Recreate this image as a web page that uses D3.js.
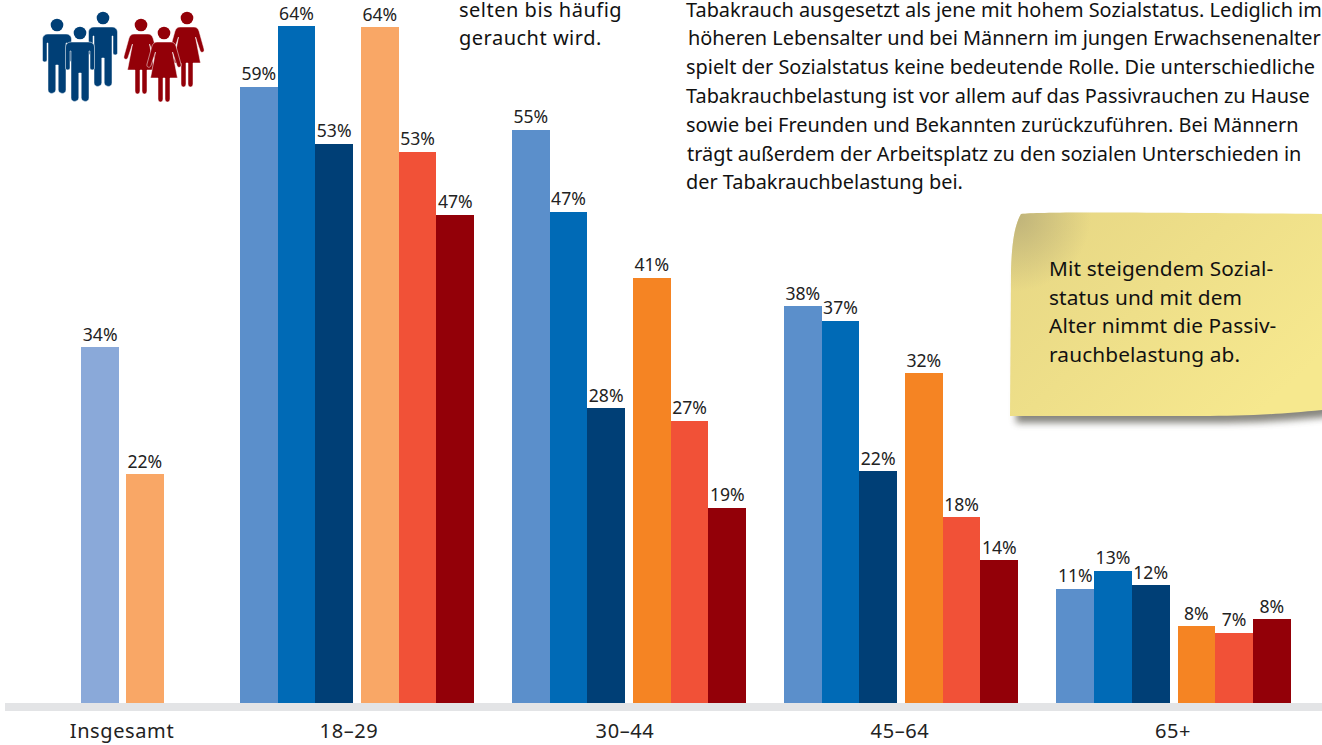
<!DOCTYPE html>
<html>
<head>
<meta charset="utf-8">
<script src="https://cdn.jsdelivr.net/npm/d3@7"></script>
<style>
  html, body { margin: 0; padding: 0; background: white; overflow: hidden; }
  svg { display: block; font-family: "Noto Sans", sans-serif; }
</style>
</head>
<body>
<svg id="main-svg" width="1322" height="745"></svg>
<script>
// age groups and overall values
var ageGroups = ["18–29", "30–44", "45–64", "65+"];
var overallLabel = "Insgesamt";
var overallMen = 33.9;
var overallWomen = 21.8;

// bar heights in percent
var menLow = [58.7, 54.6, 37.8, 10.9];
var menMid = [64.5, 46.8, 36.4, 12.6];
var menHigh = [53.3, 28.1, 22.1, 11.2];
var womenLow = [64.4, 40.5, 31.4, 7.3];
var womenMid = [52.5, 26.9, 17.7, 6.7];
var womenHigh = [46.5, 18.6, 13.6, 8.0];

// printed labels
var menLowLabels = ["59%", "55%", "38%", "11%"];
var menMidLabels = ["64%", "47%", "37%", "13%"];
var menHighLabels = ["53%", "28%", "22%", "12%"];
var womenLowLabels = ["64%", "41%", "32%", "8%"];
var womenMidLabels = ["53%", "27%", "18%", "7%"];
var womenHighLabels = ["47%", "19%", "14%", "8%"];

var textColumn = [
    "Tabakrauch ausgesetzt als jene mit hohem Sozialstatus. Lediglich im",
    "höheren Lebensalter und bei Männern im jungen Erwachsenenalter",
    "spielt der Sozialstatus keine bedeutende Rolle. Die unterschiedliche",
    "Tabakrauchbelastung ist vor allem auf das Passivrauchen zu Hause",
    "sowie bei Freunden und Bekannten zurückzuführen. Bei Männern",
    "trägt außerdem der Arbeitsplatz zu den sozialen Unterschieden in",
    "der Tabakrauchbelastung bei."
];
var textIndent = [0, 2, 0, 0, 0, 1, 0];
var textTeaser = ["selten bis häufig", "geraucht wird."];
var noteLines = ["Mit steigendem Sozial-", "status und mit dem", "Alter nimmt die Passiv-", "rauchbelastung ab."];

var svg = d3.select("#main-svg");

// scales
const baseY = 703;
var y = d3.scaleLinear().domain([0, 64.5]).range([baseY, 26]);
var groupCenter = d3.scaleOrdinal()
    .domain([overallLabel].concat(ageGroups))
    .range([122.5, 357, 629, 901, 1173.5]);
var labelCenter = d3.scaleOrdinal()
    .domain([overallLabel].concat(ageGroups))
    .range([122, 349, 625, 900, 1173]);

const barW = 37.7;
const sexGap = 8;

// series table
var series = [
    { values: menLow, labels: menLowLabels, offset: -sexGap / 2 - 3 * barW, color: "#5b8fcb" },
    { values: menMid, labels: menMidLabels, offset: -sexGap / 2 - 2 * barW, color: "#006ab6" },
    { values: menHigh, labels: menHighLabels, offset: -sexGap / 2 - barW, color: "#003f76" },
    { values: womenLow, labels: womenLowLabels, offset: sexGap / 2, color: "#f58423", first: "#f9a766" },
    { values: womenMid, labels: womenMidLabels, offset: sexGap / 2 + barW, color: "#f15137" },
    { values: womenHigh, labels: womenHighLabels, offset: sexGap / 2 + 2 * barW, color: "#930008" }
];

var bars = [
    { x: groupCenter(overallLabel) - 3.5 - barW, value: overallMen, label: "34%", color: "#8aa9d9" },
    { x: groupCenter(overallLabel) + 3.5, value: overallWomen, label: "22%", color: "#f9a766" }
];
series.forEach(function(s) {
    ageGroups.forEach(function(g, i) {
        bars.push({
            x: groupCenter(g) + s.offset,
            value: s.values[i],
            label: s.labels[i],
            color: (i === 0 && s.first) ? s.first : s.color
        });
    });
});

// defs for the note
var defs = svg.append("defs");
var grad = defs.append("linearGradient").attr("id", "noteFill")
    .attr("x1", "0%").attr("y1", "0%").attr("x2", "100%").attr("y2", "70%");
grad.append("stop").attr("offset", "0%").attr("stop-color", "#e6d684");
grad.append("stop").attr("offset", "100%").attr("stop-color", "#f6e88e");
var corner = defs.append("radialGradient").attr("id", "noteCorner")
    .attr("gradientUnits", "userSpaceOnUse")
    .attr("cx", 1016).attr("cy", 216).attr("r", 75);
corner.append("stop").attr("offset", "0%").attr("stop-color", "#b8ad78").attr("stop-opacity", 0.85);
corner.append("stop").attr("offset", "100%").attr("stop-color", "#b8ad78").attr("stop-opacity", 0);
var blur = defs.append("filter").attr("id", "noteShadow")
    .attr("x", "-10%").attr("y", "-10%").attr("width", "120%").attr("height", "125%");
blur.append("feGaussianBlur").attr("stdDeviation", 3.5);

// note
const notePath = "M1021,214 C1040,212 1100,212 1322,214 L1322,410 C1270,415 1240,416 1200,416 L1010,416 L1011,270 C1012,240 1015,225 1021,214 Z";
svg.append("path").attr("d", notePath)
    .attr("transform", "translate(6,7)")
    .attr("fill", "#55524a")
    .attr("opacity", 0.7)
    .attr("filter", "url(#noteShadow)");
svg.append("path").attr("d", notePath).attr("fill", "url(#noteFill)");
svg.append("path").attr("d", notePath).attr("fill", "url(#noteCorner)");
svg.selectAll(".note-line").data(noteLines).join("text")
    .attr("class", "note-line")
    .attr("x", 1049)
    .attr("y", (d, i) => 276 + i * 28.7)
    .attr("fill", "#111")
    .style("font-size", "20.8px")
    .style("letter-spacing", "0.15px")
    .text(d => d);

// baseline strip
svg.append("rect")
    .attr("x", 5).attr("y", baseY)
    .attr("width", 1317).attr("height", 8)
    .attr("fill", "#e3e4e6");

// bars
svg.selectAll(".bar").data(bars).join("rect")
    .attr("class", "bar")
    .attr("x", d => d.x)
    .attr("y", d => y(d.value))
    .attr("width", barW)
    .attr("height", d => baseY - y(d.value))
    .attr("fill", d => d.color)
    .attr("shape-rendering", "crispEdges");

svg.selectAll(".bar-label").data(bars).join("text")
    .attr("class", "bar-label")
    .attr("x", d => d.x + barW / 2)
    .attr("y", d => y(d.value) - 6.5)
    .attr("text-anchor", "middle")
    .attr("fill", "#222")
    .style("font-size", "17.6px")
    .text(d => d.label);

// category labels
svg.selectAll(".cat-label").data([overallLabel].concat(ageGroups)).join("text")
    .attr("class", "cat-label")
    .attr("x", d => labelCenter(d))
    .attr("y", 738)
    .attr("text-anchor", "middle")
    .attr("fill", "#222")
    .style("font-size", "20px")
    .style("letter-spacing", "0.6px")
    .text(d => d);

// running text
svg.selectAll(".body-line").data(textColumn).join("text")
    .attr("class", "body-line")
    .attr("x", (d, i) => 686 + textIndent[i])
    .attr("y", (d, i) => 16.5 + i * 28.8)
    .attr("fill", "#111")
    .style("font-size", "19.9px")
    .text(d => d);
svg.selectAll(".teaser-line").data(textTeaser).join("text")
    .attr("class", "teaser-line")
    .attr("x", 459)
    .attr("y", (d, i) => 16.5 + i * 28.8)
    .attr("fill", "#111")
    .style("font-size", "20px")
    .style("letter-spacing", "0.5px")
    .text(d => d);

// people icons
const manPath = "M-9,9 H9 C12,9 14.5,11 14.5,14 L14.5,35 C14.5,37.5 10,37.5 10,35 L10,18 L9,18 L9,65 C9,69.5 2,69.5 1.2,65 L1.2,40 L-1.2,40 L-1.2,65 C-2,69.5 -9,69.5 -9,65 L-9,18 L-10,18 L-10,35 C-10,37.5 -14.5,37.5 -14.5,35 L-14.5,14 C-14.5,11 -12,9 -9,9 Z";
const womanPath = "M-7,9 H7 C9.5,9 11,10.5 12,13 L17,31 C18,34.5 14,35.5 13,32.5 L8.5,19 L13.5,45 H6 L6,66 C6,70 1,70 1,66 L1,45 L-1,45 L-1,66 C-1,70 -6,70 -6,66 L-6,45 H-13.5 L-8.5,19 L-13,32.5 C-14,35.5 -18,34.5 -17,31 L-12,13 C-11,10.5 -9.5,9 -7,9 Z";
var people = [
    { x: 57, y: 25, d: manPath, color: "#003f76" },
    { x: 103, y: 18, d: manPath, color: "#003f76" },
    { x: 80, y: 33, d: manPath, color: "#003f76" },
    { x: 141, y: 25, d: womanPath, color: "#930008" },
    { x: 187, y: 18, d: womanPath, color: "#930008" },
    { x: 164, y: 33, d: womanPath, color: "#930008" }
];
var person = svg.selectAll(".person").data(people).join("g")
    .attr("class", "person")
    .attr("transform", d => `translate(${d.x},${d.y})`);
person.append("circle").attr("r", 6.3).attr("fill", d => d.color);
person.append("path").attr("d", d => d.d)
    .attr("fill", d => d.color)
    .attr("stroke", "white")
    .attr("stroke-width", 0.5);
</script>
</body>
</html>
